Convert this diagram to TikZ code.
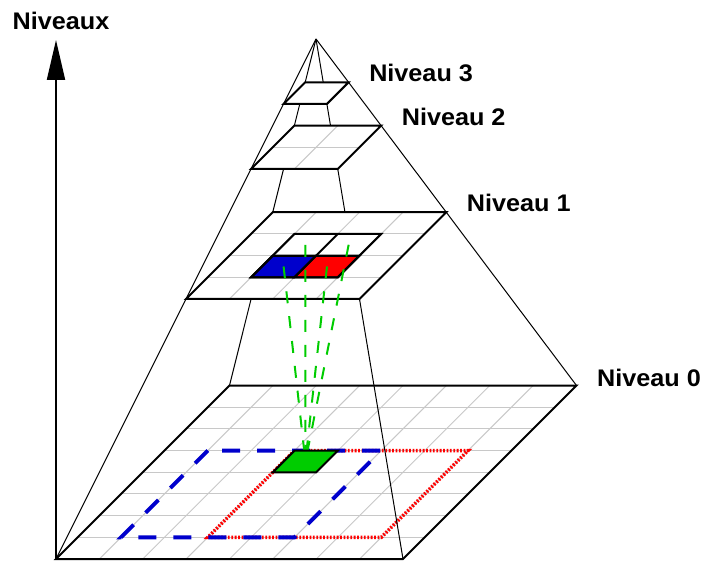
\documentclass[tikz,border=0pt]{standalone}
\usepackage{fontspec}
\setmainfont{Liberation Sans}[FakeStretch=1.05]
\usetikzlibrary{arrows.meta}
\definecolor{myblue}{RGB}{0,0,204}
\definecolor{myred}{RGB}{255,0,0}
\definecolor{mygreen}{RGB}{0,204,0}
\definecolor{gridgray}{RGB}{200,200,200}
\tikzset{
  lvl/.style 2 args={shift={(#1,#2)},x={(43.375pt,0pt)},y={(21.6875pt,21.6875pt)}},
  gridline/.style={draw=gridgray, line width=1pt},
  plane/.style={draw=black, line width=2pt, line join=miter},
  pyredge/.style={draw=black, line width=1pt},
  thickbox/.style={draw=black, line width=2pt, line join=miter},
  bluezone/.style={draw=myblue, line width=4pt, dash pattern=on 18pt off 17pt},
  redzone/.style={draw=myred, line width=3.5pt, dash pattern=on 1.8pt off 1.6pt},
  greenlink/.style={draw=mygreen, line width=2pt, dash pattern=on 12pt off 13pt},
  lvllabel/.style={font=\fontsize{24}{28}\selectfont\bfseries, anchor=base west, inner sep=0pt},
  levelaxis/.style={draw=black, line width=2pt, -{Triangle[length=40pt,width=18pt]}}
}
\begin{document}
\begin{tikzpicture}[x=1pt,y=1pt]
\useasboundingbox (0,0) rectangle (706,560);
\coordinate (apex) at (316,521);
\coordinate (axistop) at (56,520);
% ---------- level 0
\begin{scope}[lvl={56}{1}]
  \coordinate (L0BL) at (0,0);
  \coordinate (L0BR) at (8,0);
  \coordinate (L0TR) at (8,8);
  \coordinate (L0TL) at (0,8);
  \foreach \i in {1,...,7} {
    \draw[gridline] (\i,0) -- (\i,8);
    \draw[gridline] (0,\i) -- (8,\i);
  }
  \coordinate (rBL) at (3,1);
  \coordinate (rBR) at (7,1);
  \coordinate (rTR) at (7,5);
  \coordinate (rTL) at (3,5);
  \coordinate (bBL) at (1,1);
  \coordinate (bBR) at (5,1);
  \coordinate (bTR) at (5,5);
  \coordinate (bTL) at (1,5);
  \coordinate (gBL) at (3,4);
  \coordinate (gBR) at (4,4);
  \coordinate (gTR) at (4,5);
  \coordinate (gTL) at (3,5);
  \coordinate (gC) at (3.5,4.5);
\end{scope}
\draw[plane] (L0BL) -- (L0BR) -- (L0TR) -- (L0TL) -- cycle;
\draw[redzone] (rTL) -- (rBL) -- (rBR) -- (rTR) -- cycle;
\draw[bluezone] (bTL) -- (bBL) -- (bBR) -- (bTR) -- cycle;
% ---------- pyramid edges
\draw[pyredge] (apex) -- (L0BL);
\draw[pyredge] (apex) -- (L0BR);
\draw[pyredge] (apex) -- (L0TR);
\draw[pyredge] (apex) -- (L0TL);
% ---------- level 1
\begin{scope}[lvl={186}{261}]
  \coordinate (L1BL) at (0,0);
  \coordinate (L1BR) at (4,0);
  \coordinate (L1TR) at (4,4);
  \coordinate (L1TL) at (0,4);
  \fill[white] (L1BL) -- (L1BR) -- (L1TR) -- (L1TL) -- cycle;
  \foreach \i in {1,...,3} {
    \draw[gridline] (\i,0) -- (\i,4);
    \draw[gridline] (0,\i) -- (4,\i);
  }
  \filldraw[fill=myblue, thickbox] (1,1) -- (2,1) -- (2,2) -- (1,2) -- cycle;
  \filldraw[fill=myred, thickbox] (2,1) -- (3,1) -- (3,2) -- (2,2) -- cycle;
  \draw[thickbox] (1,1) -- (3,1) -- (3,3) -- (1,3) -- cycle;
  \draw[thickbox] (1,2) -- (3,2);
  \draw[thickbox] (2,1) -- (2,3);
  \coordinate (c1) at (1.5,1.5);
  \coordinate (c2) at (1.5,2.5);
  \coordinate (c3) at (2.5,1.5);
  \coordinate (c4) at (2.5,2.5);
\end{scope}
\draw[plane] (L1BL) -- (L1BR) -- (L1TR) -- (L1TL) -- cycle;
% ---------- level 2
\begin{scope}[lvl={251}{391}]
  \coordinate (L2BL) at (0,0);
  \coordinate (L2BR) at (2,0);
  \coordinate (L2TR) at (2,2);
  \coordinate (L2TL) at (0,2);
  \fill[white] (L2BL) -- (L2BR) -- (L2TR) -- (L2TL) -- cycle;
  \draw[gridline] (1,0) -- (1,2);
  \draw[gridline] (0,1) -- (2,1);
\end{scope}
\draw[plane] (L2BL) -- (L2BR) -- (L2TR) -- (L2TL) -- cycle;
% ---------- level 3
\begin{scope}[lvl={283.5}{456}]
  \coordinate (L3BL) at (0,0);
  \coordinate (L3BR) at (1,0);
  \coordinate (L3TR) at (1,1);
  \coordinate (L3TL) at (0,1);
\end{scope}
\filldraw[plane, fill=white] (L3BL) -- (L3BR) -- (L3TR) -- (L3TL) -- cycle;
% ---------- links between levels
\draw[greenlink] (c1) -- (gC);
\draw[greenlink] (c2) -- (gC);
\draw[greenlink] (c3) -- (gC);
\draw[greenlink] (c4) -- (gC);
\filldraw[fill=mygreen, thickbox] (gBL) -- (gBR) -- (gTR) -- (gTL) -- cycle;
% ---------- axis and labels
\draw[levelaxis] (L0BL) -- (axistop);
\node[lvllabel] (tAxis) at (12.5,530) {Niveaux};
\node[lvllabel] (t0) at ([xshift=20.5pt,yshift=-1pt]L0TR) {Niveau 0};
\node[lvllabel] (t1) at ([xshift=20.5pt,yshift=0.5pt]L1TR) {Niveau 1};
\node[lvllabel] (t2) at ([xshift=20.5pt,yshift=0.5pt]L2TR) {Niveau 2};
\node[lvllabel] (t3) at ([xshift=20.5pt,yshift=0.5pt]L3TR) {Niveau 3};
\end{tikzpicture}
\end{document}
